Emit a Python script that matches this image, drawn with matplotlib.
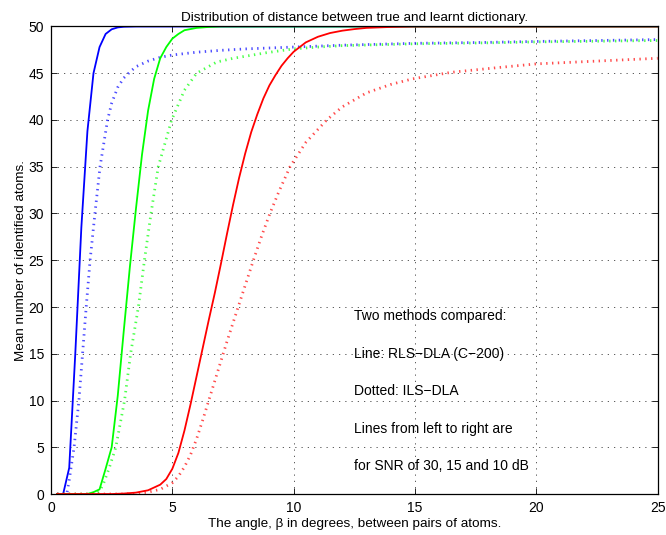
import matplotlib
matplotlib.use("Agg")
import matplotlib.pyplot as plt

plt.rcParams['font.family'] = ['Liberation Sans', 'DejaVu Sans']

title = "Distribution of distance between true and learnt dictionary."
xlabel = "The angle, \u03b2 in degrees, between pairs of atoms."
ylabel = "Mean number of identified atoms."
notes = ["Two methods compared:",
         "Line: RLS\u2212DLA (C\u2212200)",
         "Dotted: ILS\u2212DLA",
         "Lines from left to right are",
         "for SNR of 30, 15 and 10 dB"]
note_y = [19, 15, 11, 7, 3]
note_x = 12.5

# RLS-DLA, SNR 30 dB
rls30_x = [0.25, 0.5, 0.75, 1.0, 1.25, 1.5, 1.75, 2.0, 2.25, 2.5, 2.75, 3.0, 3.5, 25]
rls30_y = [0, 0, 2.8, 15, 28.5, 38.8, 45, 47.8, 49.2, 49.7, 49.9, 49.97, 50, 50]
# ILS-DLA, SNR 30 dB
ils30_x = [0.25, 0.5, 0.65, 0.75, 0.95, 1.15, 1.3, 1.45, 1.61, 1.81, 2.02, 2.33, 2.5,
           2.75, 3.0, 3.28, 3.5, 4.0, 4.5, 5.0, 6.0, 7.0, 8.0, 10, 12, 15, 18, 20, 22.5, 25]
ils30_y = [0, 0, 0, 1.5, 5, 10, 15, 20, 25, 30, 35, 40, 41.8,
           43.5, 44.5, 45.2, 45.7, 46.3, 46.7, 46.95, 47.25, 47.45, 47.6, 47.8, 48.0,
           48.2, 48.3, 48.4, 48.5, 48.6]

# RLS-DLA, SNR 15 dB
rls15_x = [0.25, 1.5, 1.75, 2.0, 2.25, 2.5, 2.75, 3.0, 3.25, 3.5, 3.75, 4.0, 4.25,
           4.5, 4.75, 5.0, 5.25, 5.5, 6.0, 6.5, 7.0, 25]
rls15_y = [0, 0, 0.2, 0.5, 2.7, 5, 10.5, 17.5, 24.3, 30.5, 36.3, 41, 44.4,
           46.6, 47.8, 48.7, 49.2, 49.6, 49.85, 49.95, 50, 50]
# ILS-DLA, SNR 15 dB
ils15_x = [0.25, 1.75, 2.0, 2.16, 2.4, 2.67, 2.85, 3.03, 3.28, 3.6, 3.85, 4.12, 4.42,
           4.97, 5.5, 6.0, 6.83, 7.51, 8.89, 9.98, 11, 12, 15, 18, 20, 25]
ils15_y = [0, 0, 0.3, 1.1, 2.8, 5, 7.5, 10, 15, 20, 25, 30, 35,
           40, 43.2, 45.0, 46.2, 46.6, 47.2, 47.6, 47.8, 47.95, 48.15, 48.25, 48.35, 48.5]

# RLS-DLA, SNR 10 dB
rls10_x = [0.25, 2.5, 3.0, 3.5, 4.0, 4.5, 4.75, 5.0, 5.25, 5.5, 5.75, 6.0, 6.25, 6.5,
           6.75, 7.0, 7.25, 7.5, 7.75, 8.0, 8.25, 8.5, 8.75, 9.0, 9.25, 9.5, 9.75, 10.0,
           10.5, 11.0, 11.5, 12.0, 12.5, 13.0, 14.0, 15.0, 25]
rls10_y = [0, 0, 0.05, 0.15, 0.4, 1.0, 1.6, 2.7, 4.4, 6.8, 9.6, 12.6, 15.6, 18.6,
           21.5, 24.6, 27.8, 30.9, 33.8, 36.4, 38.7, 40.6, 42.3, 43.7, 44.8, 45.8, 46.6,
           47.3, 48.3, 48.9, 49.3, 49.55, 49.72, 49.85, 49.95, 50, 50]
# ILS-DLA, SNR 10 dB
ils10_x = [0.25, 3.0, 3.5, 4.0, 4.5, 5.0, 5.25, 5.5, 5.75, 6.0, 6.25, 6.5, 6.75, 7.0,
           7.25, 7.5, 7.75, 8.0, 8.34, 8.68, 9.02, 9.4, 9.85, 10.5, 11.36, 12, 13, 14,
           14.9, 16.5, 18.4, 20, 22.5, 25]
ils10_y = [0, 0, 0.05, 0.2, 0.5, 1.2, 1.9, 2.9, 4.2, 5.9, 7.9, 10.0, 12.1, 14.2,
           16.3, 18.3, 20.3, 22.3, 25, 27.6, 30, 32.4, 35, 37.6, 40, 41.4, 42.9, 43.8,
           44.4, 45.1, 45.6, 46.0, 46.3, 46.6]

xticks = [0, 5, 10, 15, 20, 25]
yticks = [0, 5, 10, 15, 20, 25, 30, 35, 40, 45, 50]

fig = plt.figure(figsize=(6.66, 5.35), dpi=100)
ax = fig.add_axes([0.0766, 0.0766, 0.9109, 0.8739])

dot = (0, (0.5, 1.6))
solid_lw = 1.3
dot_lw = 2.0
ax.plot(rls30_x, rls30_y, color=(0, 0, 1), lw=solid_lw)
ax.plot(ils30_x, ils30_y, color=(0, 0, 1), lw=dot_lw, linestyle=dot, alpha=0.7)
ax.plot(rls15_x, rls15_y, color=(0, 1, 0), lw=solid_lw)
ax.plot(ils15_x, ils15_y, color=(0, 1, 0), lw=dot_lw, linestyle=dot, alpha=0.7)
ax.plot(rls10_x, rls10_y, color=(1, 0, 0), lw=solid_lw)
ax.plot(ils10_x, ils10_y, color=(1, 0, 0), lw=dot_lw, linestyle=dot, alpha=0.7)

ax.set_xlim(0, 25)
ax.set_ylim(0, 50)
ax.set_xticks(xticks)
ax.set_yticks(yticks)
ax.grid(True, color='0.25', linestyle=(0, (1.5, 6)), lw=0.6)
ax.tick_params(direction='in', top=True, right=True, length=4, width=0.6,
               labelsize=10, pad=5)
for s in ax.spines.values():
    s.set_linewidth(0.9)

ax.set_title(title, fontsize=9.7, pad=4)
ax.set_xlabel(xlabel, fontsize=9.7, labelpad=2)
ax.set_ylabel(ylabel, fontsize=9.7, labelpad=1)

for t, yv in zip(notes, note_y):
    ax.text(note_x, yv, t, fontsize=10, va='center', ha='left')

fig.savefig("out.png", dpi=100)
